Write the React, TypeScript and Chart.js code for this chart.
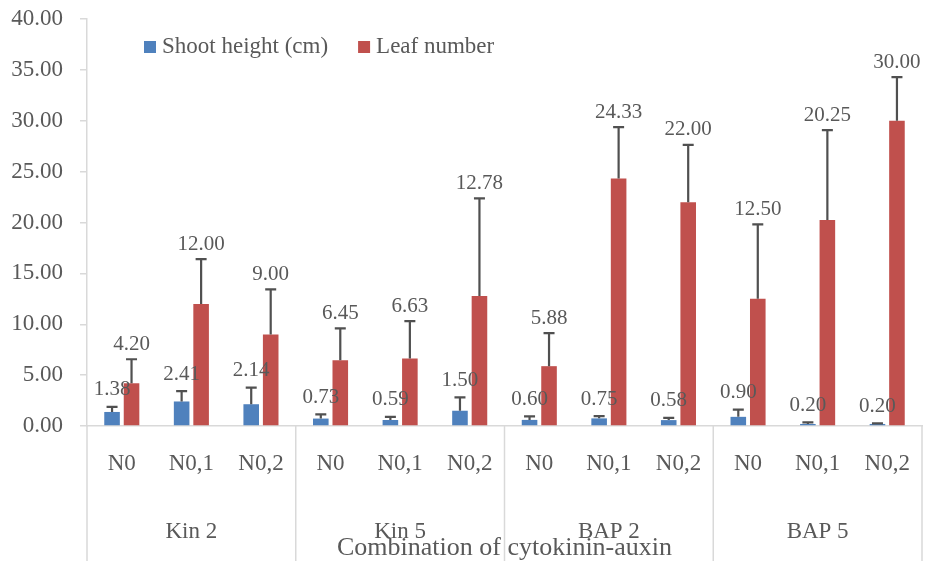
import React, { useEffect, useRef } from "react";
import { Chart, registerables } from "chart.js";

Chart.register(...registerables);

const categories = ["N0", "N0,1", "N0,2", "N0", "N0,1", "N0,2", "N0", "N0,1", "N0,2", "N0", "N0,1", "N0,2"];
const groups = ["Kin 2", "Kin 5", "BAP 2", "BAP 5"];
const shootHeight = [1.38, 2.41, 2.14, 0.73, 0.59, 1.5, 0.6, 0.75, 0.58, 0.9, 0.2, 0.2];
const shootErr = [0.49, 1.01, 1.64, 0.42, 0.3, 1.32, 0.35, 0.23, 0.21, 0.71, 0.16, 0.05];
const leafNumber = [4.2, 12.0, 9.0, 6.45, 6.63, 12.78, 5.88, 24.33, 22.0, 12.5, 20.25, 30.0];
const leafErr = [2.36, 4.41, 4.43, 3.14, 3.68, 9.6, 3.24, 5.04, 5.63, 7.32, 8.82, 4.29];
const xTitle = "Combination of cytokinin-auxin";

const FONT = "'Liberation Serif', 'Times New Roman', serif";
const TXT = "#595959";
const AXIS = "#d9d9d9";

const errors = [shootErr, leafErr];

const overlayPlugin = {
  id: "overlay",
  afterDatasetsDraw(chart: any) {
    const ctx = chart.ctx;
    const y = chart.scales.y;
    ctx.save();
    chart.data.datasets.forEach((ds: any, di: number) => {
      const meta = chart.getDatasetMeta(di);
      meta.data.forEach((el: any, i: number) => {
        const v = ds.data[i];
        const e = errors[di][i];
        const top = y.getPixelForValue(v + e);
        ctx.strokeStyle = "#505050";
        ctx.lineWidth = 2.2;
        ctx.beginPath();
        ctx.moveTo(el.x, el.y);
        ctx.lineTo(el.x, top);
        ctx.moveTo(el.x - 5.5, top);
        ctx.lineTo(el.x + 5.5, top);
        ctx.stroke();
      });
    });
    ctx.restore();
  },
  afterDraw(chart: any) {
    const ctx = chart.ctx;
    const y = chart.scales.y;
    const x = chart.scales.x;
    const area = chart.chartArea;
    ctx.save();
    // data labels
    ctx.fillStyle = TXT;
    ctx.font = `21px ${FONT}`;
    ctx.textAlign = "center";
    ctx.textBaseline = "middle";
    chart.data.datasets.forEach((ds: any, di: number) => {
      const meta = chart.getDatasetMeta(di);
      meta.data.forEach((el: any, i: number) => {
        const v = ds.data[i];
        const e = errors[di][i];
        const top = y.getPixelForValue(v + e);
        ctx.fillText(v.toFixed(2), el.x, top - (di === 0 ? 17 : 15));
      });
    });

    // x axis separators
    const n = categories.length;
    const catW = (area.right - area.left) / n;
    ctx.strokeStyle = AXIS;
    ctx.lineWidth = 1.5;
    for (let g = 0; g <= groups.length; g++) {
      const px = area.left + g * 3 * catW;
      ctx.beginPath();
      ctx.moveTo(px, area.bottom);
      ctx.lineTo(px, chart.height);
      ctx.stroke();
    }
    // category labels
    ctx.fillStyle = TXT;
    ctx.font = `23px ${FONT}`;
    categories.forEach((c, i) => {
      ctx.fillText(c, x.getPixelForValue(i), area.bottom + 38);
    });
    groups.forEach((g, gi) => {
      const cx = area.left + (gi * 3 + 1.5) * catW;
      ctx.fillText(g, cx, area.bottom + 106);
    });
    ctx.font = `26px ${FONT}`;
    ctx.fillText(xTitle, (area.left + area.right) / 2, area.bottom + 122);

    // legend
    ctx.font = `23px ${FONT}`;
    ctx.textAlign = "left";
    let lx = area.left + 57;
    const ly = area.top + 28;
    chart.data.datasets.forEach((ds: any) => {
      ctx.fillStyle = ds.backgroundColor;
      ctx.fillRect(lx, ly - 6, 12, 12);
      ctx.fillStyle = TXT;
      ctx.fillText(ds.label, lx + 18, ly);
      lx += 18 + ctx.measureText(ds.label).width + 30;
    });
    ctx.restore();
  },
};

export default function App() {
  const ref = useRef<HTMLCanvasElement>(null);
  useEffect(() => {
    if (!ref.current) return;
    const chart = new Chart(ref.current, {
      type: "bar",
      data: {
        labels: categories,
        datasets: [
          { label: "Shoot height (cm)", data: shootHeight, backgroundColor: "#4F81BD" },
          { label: "Leaf number", data: leafNumber, backgroundColor: "#C0504D" },
        ],
      },
      options: {
        animation: false,
        responsive: true,
        maintainAspectRatio: false,
        layout: { padding: { top: 19, right: 3, left: 0, bottom: 0 } },
        datasets: { bar: { categoryPercentage: 0.56, barPercentage: 0.8 } } as any,
        plugins: { legend: { display: false }, tooltip: { enabled: false } },
        scales: {
          x: {
            ticks: { display: false },
            grid: { display: false },
            border: { display: true, color: AXIS, width: 1.5 },
            afterFit: (s: any) => {
              s.height = 135;
              s.paddingLeft = 0;
              s.paddingRight = 0;
            },
          },
          y: {
            min: 0,
            max: 40,
            ticks: {
              stepSize: 5,
              padding: 17,
              color: TXT,
              font: { family: FONT, size: 23 },
              callback: (v: any) => Number(v).toFixed(2),
            },
            grid: { drawOnChartArea: false, drawTicks: true, tickLength: 7, color: AXIS, lineWidth: 1.5 },
            border: { display: true, color: AXIS, width: 1.5 },
            afterFit: (s: any) => {
              s.width = 87;
              s.paddingTop = 0;
              s.paddingBottom = 0;
            },
          },
        },
      },
      plugins: [overlayPlugin],
    });
    return () => chart.destroy();
  }, []);
  return (
    <div style={{ position: "absolute", left: 0, top: 0, width: 925, height: 561, background: "#fff" }}>
      <canvas ref={ref} />
    </div>
  );
}
